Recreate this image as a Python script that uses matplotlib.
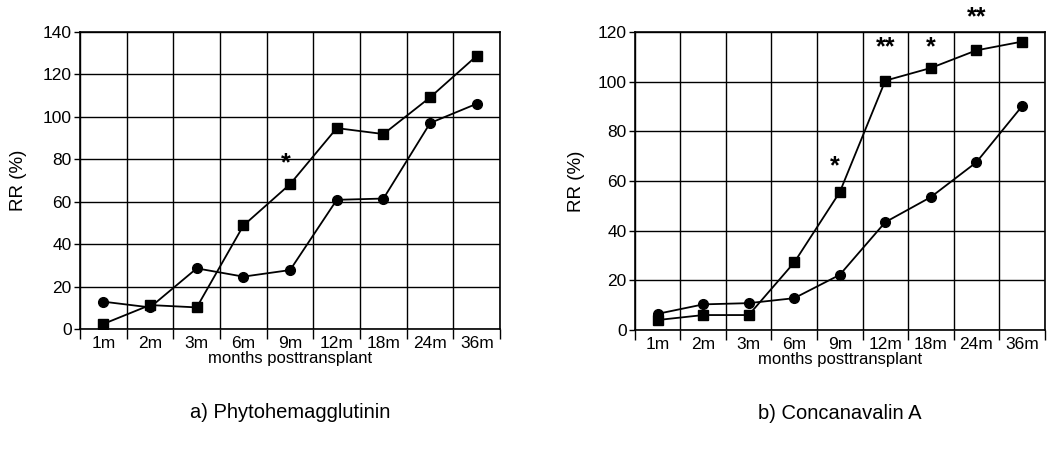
import numpy as np
import matplotlib.pyplot as plt

plt.rcParams['font.family'] = ['Liberation Sans', 'DejaVu Sans']

months = ['1m', '2m', '3m', '6m', '9m', '12m', '18m', '24m', '36m']

# a) Phytohemagglutinin
pha_sq = [2.4, 11.3, 10.2, 48.8, 68.3, 94.7, 91.9, 109.2, 128.8]
pha_ci = [12.9, 10.2, 28.6, 24.7, 27.8, 60.9, 61.5, 97.1, 106.2]
pha_stars = [(3.9, 78, '*')]

# b) Concanavalin A
cona_sq = [4.0, 6.0, 6.0, 27.2, 55.5, 100.4, 105.5, 112.6, 116.1]
cona_ci = [6.5, 10.3, 10.8, 12.8, 22.2, 43.4, 53.5, 67.5, 90.0]
cona_stars = [(3.9, 66, '*'), (5.0, 114, '**'), (6.0, 114, '*'), (7.0, 126, '**')]

fig = plt.figure(figsize=(10.53, 4.57), dpi=100)
ax1 = fig.add_axes([0.076, 0.280, 0.399, 0.650])
ax2 = fig.add_axes([0.603, 0.278, 0.389, 0.652])


def draw(ax, sq, ci, ymax, stars, title, ylpad):
    x = np.arange(len(months))
    ax.plot(x, sq, color='black', lw=1.3, marker='s', ms=7.5, zorder=3)
    ax.plot(x, ci, color='black', lw=1.3, marker='o', ms=7, zorder=3)
    ax.set_xlim(-0.5, len(months) - 0.5)
    ax.set_ylim(0, ymax)
    ax.set_yticks(np.arange(0, ymax + 1, 20))
    ax.set_xticks(x)
    ax.set_xticklabels(months, fontsize=12.5)
    ax.set_xticks(np.arange(-0.5, len(months), 1), minor=True)
    ax.tick_params(axis='x', which='major', length=0, pad=5)
    ax.tick_params(axis='x', which='minor', length=7, width=1, direction='out')
    ax.tick_params(axis='y', length=4, width=1, labelsize=12.5, pad=2)
    ax.grid(True, which='minor', axis='x', color='black', lw=1)
    ax.grid(True, which='major', axis='y', color='black', lw=1)
    for s in ax.spines.values():
        s.set_linewidth(1.2)
    ax.set_xlabel('months posttransplant', fontsize=12, labelpad=0)
    ax.set_ylabel('RR (%)', fontsize=13.5, labelpad=ylpad)
    for xs, ys, t in stars:
        ax.text(xs, ys, t, ha='center', va='center', fontsize=18,
                fontweight='bold', clip_on=False)
    ax.text(0.5, -0.28, title, transform=ax.transAxes, ha='center',
            va='center', fontsize=14.5)


draw(ax1, pha_sq, pha_ci, 140, pha_stars, 'a) Phytohemagglutinin', 11)
draw(ax2, cona_sq, cona_ci, 120, cona_stars, 'b) Concanavalin A', 9)

fig.savefig('out.png', dpi=100)
